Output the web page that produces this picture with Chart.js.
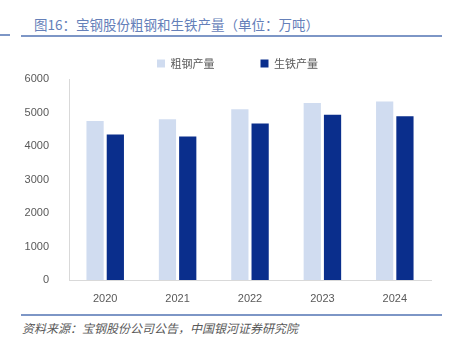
<!DOCTYPE html>
<html>
<head>
<meta charset="utf-8">
<script src="https://cdn.jsdelivr.net/npm/chart.js@4"></script>
<style>
  html, body { margin: 0; padding: 0; background: #fff; }
  body { width: 451px; height: 351px; position: relative; overflow: hidden;
         font-family: "Noto Sans CJK SC", "Liberation Sans", sans-serif; }
  #title { position: absolute; left: 34px; top: 14px; font-size: 13.5px; color: #6580b9; white-space: nowrap; }
  #source { position: absolute; left: 22px; top: 319px; font-size: 12px; color: #595959; font-style: italic; white-space: nowrap; }
  .rule { position: absolute; height: 1.5px; background: #7d96c6; }
  #chart { position: absolute; left: 0; top: 0; }
</style>
</head>
<body>
<div id="title">图16：宝钢股份粗钢和生铁产量（单位：万吨）</div>
<div class="rule" style="left:0;width:10px;top:34px;"></div>
<div class="rule" style="left:21px;width:421px;top:35px;"></div>
<div class="rule" style="left:21px;width:421px;top:314px;"></div>
<div id="source">资料来源：宝钢股份公司公告，中国银河证券研究院</div>
<canvas id="chart" width="451" height="351"></canvas>
<script>
// values (万吨)
const years = ['2020', '2021', '2022', '2023', '2024'];
const crudeSteel = [4745, 4795, 5100, 5285, 5325];
const pigIron = [4345, 4285, 4675, 4930, 4890];
const yTicks = [0, 1000, 2000, 3000, 4000, 5000, 6000];

const tickFont = { family: 'Liberation Sans, Noto Sans CJK SC, sans-serif', size: 11 };

// nudge the legend right so it sits where the original has it
const legendShift = {
    id: 'legendShift',
    afterLayout(chart) {
        chart.legend.left += 22;
        chart.legend.right += 22;
    }
};

new Chart(document.getElementById('chart'), {
    type: 'bar',
    data: {
        labels: years,
        datasets: [{
            label: '粗钢产量',
            data: crudeSteel,
            backgroundColor: '#d0dcf0',
            categoryPercentage: 0.56,
            barPercentage: 0.85
        }, {
            label: '生铁产量',
            data: pigIron,
            backgroundColor: '#0a2e8c',
            categoryPercentage: 0.56,
            barPercentage: 0.85
        }]
    },
    options: {
        responsive: false,
        animation: false,
        devicePixelRatio: 1,
        layout: { padding: { left: 0, right: 20, top: 12, bottom: 41 } },
        plugins: {
            tooltip: { enabled: false },
            legend: {
                position: 'top',
                labels: {
                    boxWidth: 8,
                    boxHeight: 8,
                    padding: 46,
                    color: '#595959',
                    font: { family: 'Noto Sans CJK SC, sans-serif', size: 11 }
                }
            }
        },
        scales: {
            x: {
                grid: { display: false },
                border: { color: '#d9d9d9', width: 1 },
                ticks: { color: '#595959', font: tickFont, padding: 4 },
                afterFit: function (scale) { scale.height = 30; }
            },
            y: {
                min: 0,
                max: 6000,
                afterBuildTicks: function (scale) {
                    scale.ticks = yTicks.map(v => ({ value: v }));
                },
                grid: { display: false },
                border: { color: '#d9d9d9', width: 1 },
                ticks: {
                    color: '#595959',
                    font: tickFont,
                    padding: 12,
                    callback: v => String(v)
                },
                afterFit: function (scale) { scale.width = 69; }
            }
        }
    },
    plugins: [legendShift]
});
</script>
</body>
</html>
